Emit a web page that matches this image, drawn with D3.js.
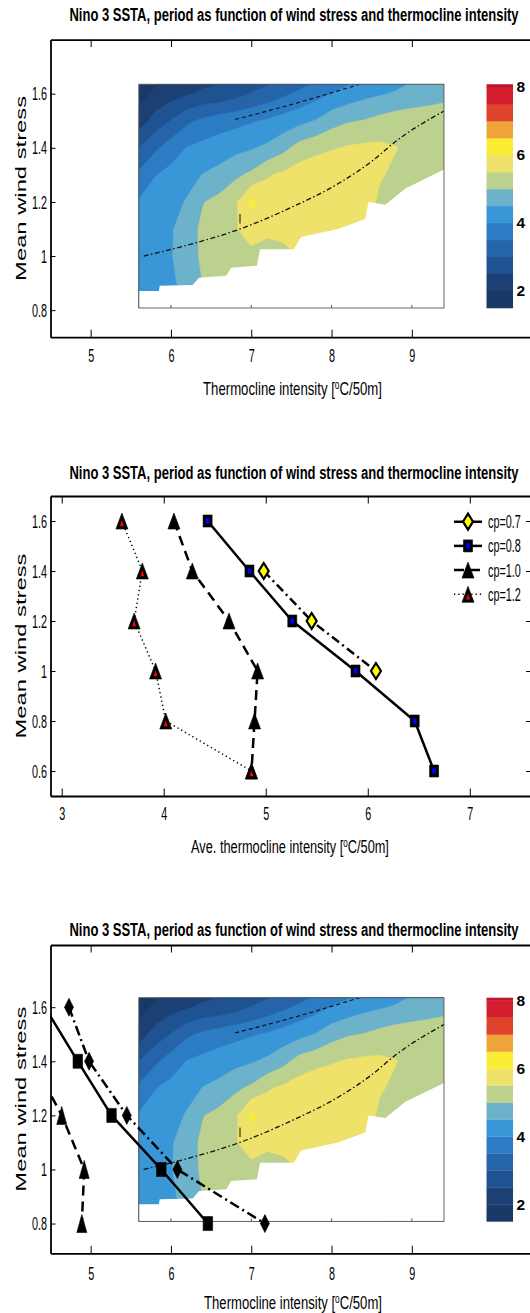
<!DOCTYPE html>
<html>
<head>
<meta charset="utf-8">
<script src="https://cdn.jsdelivr.net/npm/d3@7"></script>
<style>
  body { margin: 0; background: #fff; }
  svg { display: block; }
  text { font-family: "Liberation Sans", Arial, Helvetica, sans-serif; fill: #000; }
</style>
</head>
<body>
<svg></svg>
<script>
// wind stress levels and the thermocline intensity of each run
const stress = [1.6, 1.4, 1.2, 1.0, 0.8, 0.6]
const cp07 = [4.73, 4.98, 5.45, 6.08, 7.17, NaN]
const cp08 = [4.43, 4.84, 5.26, 5.88, 6.46, 6.65]
const cp10 = [4.10, 4.28, 4.64, 4.92, 4.89, 4.86]
const cp12 = [3.59, 3.79, 3.71, 3.92, 4.02, 4.86]
const cp07Middle = [1.4, 1.2, 1.0]   // stresses shown for cp=0.7 in the middle panel

// period map (years), rows = wind stress, columns = thermocline intensity
const gridX = [5.6, 5.8, 6.0, 6.2, 6.4, 6.6, 6.8, 7.0, 7.2, 7.4, 7.6, 7.8, 8.0, 8.2, 8.4, 8.6, 8.8, 9.0, 9.2, 9.4]
const gridY = [0.8, 0.9, 1.0, 1.1, 1.2, 1.3, 1.4, 1.5, 1.6, 1.7]
const period = [
  [4.2, 4.25, 4.3, 4.5, 4.9, 5.0, 5.1, 5.15, 5.2, 5.25, 5.3, 5.3, 5.3, 5.3, 5.2, 5.0, 4.9, 4.8, 4.75, 4.7],
  [4.3, 4.35, 4.42, 4.65, 5.02, 5.15, 5.25, 5.3, 5.3, 5.35, 5.4, 5.45, 5.4, 5.4, 5.35, 5.1, 5.0, 4.9, 4.85, 4.8],
  [4.3, 4.4, 4.47, 4.75, 5.1, 5.3, 5.35, 5.35, 5.3, 5.35, 5.52, 5.6, 5.6, 5.55, 5.48, 5.2, 5.1, 4.98, 4.95, 4.9],
  [4.2, 4.35, 4.45, 4.75, 5.12, 5.4, 5.45, 5.75, 5.6, 5.65, 5.7, 5.75, 5.8, 5.75, 5.65, 5.3, 5.2, 5.1, 5.05, 5.02],
  [4.05, 4.2, 4.3, 4.55, 4.98, 5.15, 5.4, 6.1, 5.8, 5.85, 5.85, 5.9, 5.9, 5.9, 5.8, 5.4, 5.3, 5.2, 5.15, 5.1],
  [3.6, 3.98, 4.15, 4.3, 4.52, 4.65, 4.9, 5.1, 5.45, 5.6, 5.75, 5.85, 5.9, 5.9, 5.85, 5.55, 5.4, 5.3, 5.25, 5.2],
  [3.0, 3.4, 3.75, 4.02, 4.15, 4.25, 4.35, 4.45, 4.6, 4.85, 5.2, 5.35, 5.45, 5.55, 5.6, 5.6, 5.52, 5.35, 5.3, 5.3],
  [2.25, 2.7, 3.02, 3.4, 3.6, 3.75, 3.85, 3.95, 4.05, 4.2, 4.35, 4.52, 4.8, 4.95, 5.02, 5.15, 5.25, 5.3, 5.3, 5.3],
  [1.8, 2.1, 2.3, 2.45, 2.6, 2.65, 2.8, 3.02, 3.2, 3.4, 3.6, 3.8, 4.02, 4.2, 4.35, 4.45, 4.55, 4.65, 4.75, 4.85],
  [1.55, 1.7, 1.9, 2.05, 2.1, 2.2, 2.3, 2.4, 2.55, 2.7, 2.9, 3.1, 3.3, 3.5, 3.7, 3.9, 4.1, 4.3, 4.45, 4.6]
]
const levels = [1.5, 2, 2.5, 3, 3.5, 4, 4.5, 5, 5.5, 6, 6.5, 7, 7.5, 8]
const levelColors = ['#1a3866', '#1c3f74', '#1f5290', '#2564a9', '#2c7cc4', '#3a97d7', '#6cb2cb',
  '#bdd18e', '#eee26a', '#fbec35', '#efa43a', '#e0432b', '#d31e2d', '#c31230']
const cbTicks = [2, 4, 6, 8]
// edge of the region with no oscillation (left blank)
const stableEdge = [[5.6, 0.871], [5.85, 0.871], [5.86, 0.89], [6.27, 0.893], [6.35, 0.92], [6.69, 0.927],
  [6.75, 0.957], [7.07, 0.964], [7.11, 1.025], [7.53, 1.025], [7.62, 1.07], [8.08, 1.1], [8.42, 1.137],
  [8.46, 1.2], [8.67, 1.19], [8.92, 1.25], [9.4, 1.32]]
const ridgeLow = [[5.66, 1.0], [6.2, 1.04], [6.86, 1.1], [7.5, 1.18], [8.08, 1.267], [8.5, 1.35], [8.8, 1.424], [9.4, 1.536]]
const ridgeHigh = [[6.8, 1.505], [7.5, 1.56], [8.35, 1.635]]
const ridgeMark = [[6.86, 1.12], [6.86, 1.155]]

const mapXTicks = [5, 6, 7, 8, 9]
const mapYTicks = [0.8, 1, 1.2, 1.4, 1.6]
const lineXTicks = [3, 4, 5, 6, 7]
const lineYTicks = [0.6, 0.8, 1, 1.2, 1.4, 1.6]

const title = 'Nino 3 SSTA, period as function of wind stress and thermocline intensity'

const svgWidth = 530
const svgHeight = 1313
const left = 50.5
const squeeze = 0.57
const svg = d3.select('svg').attr('width', svgWidth).attr('height', svgHeight)

const panels = [
  { top: 39.6, bottom: 337.2, right: 532.3, xLim: [4.5, 10.5], yLim: [0.7, 1.8], titleY: 21, labelY: 395,
    pad: 11, xt: mapXTicks, yt: mapYTicks, map: true, label: 'Thermocline intensity [', labelX: 292.5, labelW: 179 },
  { top: 496, bottom: 796, right: 531, xLim: [2.89, 7.6], yLim: [0.5, 1.7], titleY: 478.5, labelY: 853,
    pad: 11, xt: lineXTicks, yt: lineYTicks, map: false, label: 'Ave. thermocline intensity [', labelX: 290, labelW: 198 },
  { top: 945, bottom: 1253.3, right: 532.3, xLim: [4.5, 10.5], yLim: [0.69, 1.83], titleY: 936, labelY: 1309,
    pad: 13, xt: mapXTicks, yt: mapYTicks, map: true, label: 'Thermocline intensity [', labelX: 293, labelW: 178 }
]

const fmt = d => String(Math.round(d * 10) / 10)

// squeeze a text horizontally (in its own frame) so that it spans `width` px
function fitWidth(sel, width, pre) {
  const w = sel.node().getBBox().width
  sel.attr('transform', `${pre} scale(${width / w},1)`)
}

function markerPath(shape, w, h) {
  if (shape === 'dia') return `M0,${-h / 2}L${w / 2},0L0,${h / 2}L${-w / 2},0Z`
  if (shape === 'tri') return `M0,${-h / 2}L${w / 2},${h / 2}L${-w / 2},${h / 2}Z`
  return `M${-w / 2},${-h / 2}H${w / 2}V${h / 2}H${-w / 2}Z`
}

function drawMarker(g, shape, s, px, py) {
  const m = g.append('g').attr('transform', `translate(${px},${py})`)
  m.append('path').attr('d', markerPath(shape, s.w, s.h))
    .attr('fill', s.fill || '#000').attr('stroke', '#000').attr('stroke-width', s.fill ? 2.2 : 0.6)
  if (s.inner && shape === 'sq') {
    m.append('path').attr('d', markerPath('sq', s.w * 0.4, s.h * 0.45)).attr('fill', s.inner)
  }
  if (s.inner && shape === 'tri') {
    m.append('path').attr('d', markerPath('tri', s.w * 0.32, s.h * 0.38))
      .attr('transform', `translate(0,${s.h * 0.14})`).attr('fill', s.inner)
  }
}

function drawMap(g, x, y, id) {
  const clipId = 'img' + id
  g.append('clipPath').attr('id', clipId).append('rect')
    .attr('x', x(5.6)).attr('y', y(1.635))
    .attr('width', x(9.4) - x(5.6)).attr('height', y(0.808) - y(1.635))

  const nx = gridX.length, ny = gridY.length
  const gx = d3.scaleLinear().domain([0.5, nx - 0.5]).range([gridX[0], gridX[nx - 1]])
  const gy = d3.scaleLinear().domain([0.5, ny - 0.5]).range([gridY[0], gridY[ny - 1]])
  const proj = d3.geoTransform({ point(px, py) { this.stream.point(x(gx(px)), y(gy(py))) } })
  const path = d3.geoPath(proj)
  const contours = d3.contours().size([nx, ny]).thresholds(levels)(period.flat())

  const field = g.append('g').attr('clip-path', `url(#${clipId})`)
  field.selectAll('path.band').data(contours).join('path').attr('class', 'band')
    .attr('d', path)
    .attr('fill', d => levelColors[levels.indexOf(d.value)])
    .attr('stroke', d => levelColors[levels.indexOf(d.value)]).attr('stroke-width', 0.5)

  const line = d3.line().x(d => x(d[0])).y(d => y(d[1]))
  field.append('path')
    .attr('d', line(stableEdge.concat([[9.5, 1.32], [9.5, 0.7], [5.5, 0.7], [5.5, 0.871]])))
    .attr('fill', '#fff')

  const smooth = d3.line().x(d => x(d[0])).y(d => y(d[1])).curve(d3.curveMonotoneX)
  field.append('path').attr('d', smooth(ridgeLow)).attr('fill', 'none')
    .attr('stroke', '#111').attr('stroke-width', 1.3).attr('stroke-dasharray', '5,2.5,1.5,2.5')
  field.append('path').attr('d', smooth(ridgeHigh)).attr('fill', 'none')
    .attr('stroke', '#111').attr('stroke-width', 1.1).attr('stroke-dasharray', '4,3')
  field.append('path').attr('d', line(ridgeMark)).attr('stroke', '#111').attr('stroke-width', 1)

  g.append('rect')
    .attr('x', x(5.6)).attr('y', y(1.635))
    .attr('width', x(9.4) - x(5.6)).attr('height', y(0.808) - y(1.635))
    .attr('fill', 'none').attr('stroke', '#555').attr('stroke-width', 0.9)
  g.selectAll(null).data([6, 7, 8, 9]).join('line')
    .attr('x1', d => x(d)).attr('x2', d => x(d))
    .attr('y1', y(0.808)).attr('y2', y(0.808) - 3)
    .attr('stroke', '#555')

  // colour bar
  const cv = d3.scaleLinear().domain([1.5, 8.08]).range([y(0.808), y(1.635)])
  const bands = levels.map((t, i) => [t, i < levels.length - 1 ? levels[i + 1] : 8.08])
  g.selectAll(null).data(bands).join('rect')
    .attr('x', x(9.93)).attr('width', x(10.26) - x(9.93))
    .attr('y', d => cv(d[1])).attr('height', d => cv(d[0]) - cv(d[1]) + 0.3)
    .attr('fill', (d, i) => levelColors[i])
  g.selectAll(null).data(cbTicks).join('text')
    .attr('x', x(10.26) + 3.5).attr('y', d => cv(d) + 5.5)
    .attr('font-size', 15.5).attr('font-weight', 'bold')
    .text(d => d)
}

function drawSeries(g, x, y, entries) {
  const line = d3.line().x(d => x(d[0])).y(d => y(d[1]))
  entries.forEach(e => {
    g.append('path').attr('d', line(e.pts)).attr('fill', 'none')
      .attr('stroke', '#000').attr('stroke-width', e.width)
      .attr('stroke-dasharray', e.dash).attr('stroke-linejoin', 'round')
  })
  entries.forEach(e => {
    e.pts.forEach(p => drawMarker(g, e.shape, e, x(p[0]), y(p[1])))
  })
}

const pts = (vals, keep) => stress.map((s, i) => [vals[i], s])
  .filter(d => !isNaN(d[0]) && (!keep || keep.includes(d[1])))

panels.forEach((p, k) => {
  const g = svg.append('g')
  const x = d3.scaleLinear().domain(p.xLim).range([left, p.right])
  const y = d3.scaleLinear().domain(p.yLim).range([p.bottom, p.top])

  if (p.map) drawMap(g, x, y, k)

  if (k === 1) {
    const s07 = { label: 'cp=0.7', pts: pts(cp07, cp07Middle), dash: '9,4,2,4', width: 2.5, shape: 'dia', w: 10, h: 16, fill: '#ffff00' }
    const s08 = { label: 'cp=0.8', pts: pts(cp08), dash: null, width: 2.5, shape: 'sq', w: 9, h: 12, inner: '#0000ff' }
    const s10 = { label: 'cp=1.0', pts: pts(cp10), dash: '10,6', width: 2.5, shape: 'tri', w: 12, h: 16 }
    const s12 = { label: 'cp=1.2', pts: pts(cp12), dash: '1.3,3', width: 1.5, shape: 'tri', w: 12, h: 16, inner: '#ff0000' }
    drawSeries(g, x, y, [s10, s12, s08, s07])

    ;[s07, s08, s10, s12].forEach((e, i) => {
      const ly = 521.7 + i * 24.2
      g.append('line').attr('x1', 454).attr('x2', 482).attr('y1', ly).attr('y2', ly)
        .attr('stroke', '#000').attr('stroke-width', e.width).attr('stroke-dasharray', e.dash)
      drawMarker(g, e.shape, e, 468, ly)
      g.append('text').attr('transform', `translate(488,${ly + 6.5}) scale(${squeeze},1)`)
        .attr('font-size', 19).text(e.label)
    })
  }

  if (k === 2) {
    const clipId = 'ax' + k
    g.append('clipPath').attr('id', clipId).append('rect')
      .attr('x', left).attr('y', p.top).attr('width', p.right - left).attr('height', p.bottom - p.top)
    const sg = g.append('g').attr('clip-path', `url(#${clipId})`)
    const keep = stress.filter(s => s >= 0.8)
    drawSeries(sg, x, y, [
      { pts: pts(cp10, keep), dash: '10,6', width: 2.5, shape: 'tri', w: 10, h: 18 },
      { pts: pts(cp08, keep), dash: null, width: 2.5, shape: 'sq', w: 9.5, h: 14 },
      { pts: pts(cp07, keep), dash: '10,4,2,4', width: 2.5, shape: 'dia', w: 9, h: 18 }
    ])
  }

  // axes
  const styleAxis = a => {
    a.select('.domain').attr('stroke-width', 1.8)
    a.selectAll('.tick line').attr('stroke-width', 1)
  }
  g.append('g').attr('transform', `translate(0,${p.top})`)
    .call(d3.axisTop(x).tickValues(p.xt).tickSizeInner(-7.5).tickSizeOuter(0).tickFormat(''))
    .call(styleAxis)
  if (!p.map) {
    g.append('g').attr('transform', `translate(${p.right},0)`)
      .call(d3.axisRight(y).tickValues(p.yt).tickSizeInner(-5).tickSizeOuter(0).tickFormat(''))
      .call(styleAxis)
  }
  const bx = g.append('g').attr('transform', `translate(0,${p.bottom})`)
    .call(d3.axisBottom(x).tickValues(p.xt).tickSizeInner(-7.5).tickSizeOuter(0).tickPadding(p.pad).tickFormat(fmt))
    .call(styleAxis)
  bx.selectAll('text').attr('font-size', 19).attr('transform', `scale(${squeeze},1)`)
  const ly = g.append('g').attr('transform', `translate(${left},0)`)
    .call(d3.axisLeft(y).tickValues(p.yt).tickSizeInner(-5).tickSizeOuter(0).tickPadding(6).tickFormat(fmt))
    .call(styleAxis)
  ly.selectAll('text').attr('font-size', 19).attr('transform', `scale(${squeeze},1)`)

  // texts
  const tt = g.append('text').attr('text-anchor', 'middle')
    .attr('font-size', 19).attr('font-weight', 'bold').text(title)
  fitWidth(tt, 450, `translate(294,${p.titleY})`)

  const xl = g.append('text').attr('text-anchor', 'middle').attr('font-size', 19)
  xl.append('tspan').text(p.label)
  xl.append('tspan').attr('font-size', 12).attr('baseline-shift', '55%').text('o')
  xl.append('tspan').text('C/50m]')
  fitWidth(xl, p.labelW, `translate(${p.labelX},${p.labelY})`)

  const yl = g.append('text').attr('text-anchor', 'middle').attr('font-size', 14.5)
    .text('Mean wind stress')
  fitWidth(yl, 185, `translate(25.5,${(p.top + p.bottom) / 2}) rotate(-90)`)
})
</script>
</body>
</html>
